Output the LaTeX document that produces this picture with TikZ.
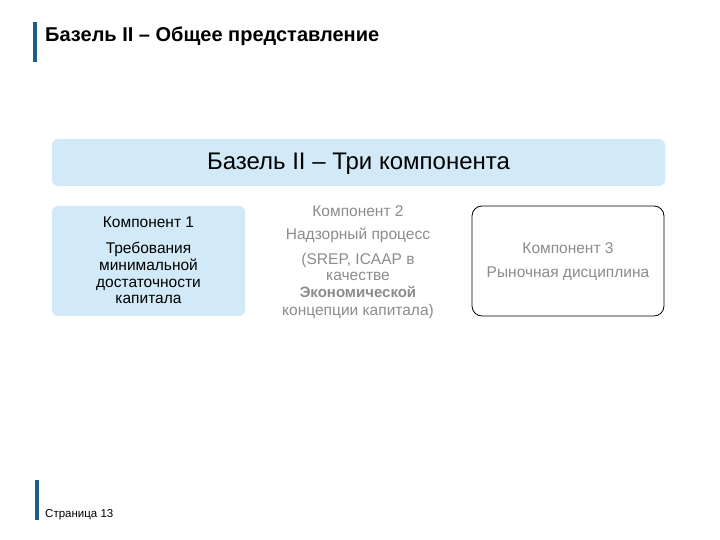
\documentclass[tikz,border=0pt]{standalone}
\usepackage{fontspec}
\setmainfont{Liberation Sans}
\definecolor{barblue}{HTML}{1B5E8C}
\definecolor{lightblue}{HTML}{D2EAF8}
\definecolor{greytext}{HTML}{8C8C8C}
\tikzset{
  bar/.style={fill=barblue, draw=none},
  panel/.style={fill=lightblue, draw=none, rounded corners=6pt},
  outlinebox/.style={draw=black, line width=0.8pt, fill=white, rounded corners=10pt},
  ln/.style={anchor=base, inner sep=0pt, font=\fontsize{15.5}{17}\selectfont},
  gln/.style={ln, text=greytext},
}
\begin{document}
\begin{tikzpicture}[x=1pt,y=-1pt]
\useasboundingbox (0,0) rectangle (720,540);
\fill[white] (0,0) rectangle (720,540);
% title
\fill[bar] (33,22) rectangle (37,62);
\node[anchor=base west, inner sep=0pt, font=\bfseries\fontsize{20}{22}\selectfont] (title) at (45,42) {Базель II – Общее представление};
% banner
\node[panel, minimum width=613pt, minimum height=47pt, inner sep=0pt] (banner) at (358.5,162.5) {};
\node[anchor=base, inner sep=0pt, font=\fontsize{24}{26}\selectfont] (bannertext) at (358.5,170) {Базель II – Три компонента};
% component 1
\node[panel, minimum width=193pt, minimum height=110pt, inner sep=0pt] (c1) at (148.5,261) {};
\node[ln] (c1a) at (148.5,227) {Компонент 1};
\node[ln] (c1b) at (148.5,253) {Требования};
\node[ln] (c1c) at (148.5,270) {минимальной};
\node[ln] (c1d) at (148.5,287) {достаточности};
\node[ln] (c1e) at (148.5,303.5) {капитала};
% component 2
\node[gln] (c2a) at (358,216) {Компонент 2};
\node[gln] (c2b) at (358,240) {Надзорный процесс};
\node[gln] (c2c) at (358,264) {(SREP, ICAAP в};
\node[gln] (c2d) at (358,280.5) {качестве};
\node[gln, font=\bfseries\fontsize{15}{17}\selectfont] (c2e) at (358,297.5) {Экономической};
\node[gln] (c2f) at (358,315) {концепции капитала)};
% component 3
\node[outlinebox, minimum width=192pt, minimum height=110pt, inner sep=0pt] (c3) at (568,261) {};
\node[gln] (c3a) at (568,253.5) {Компонент 3};
\node[gln] (c3b) at (568,277.5) {Рыночная дисциплина};
% footer
\fill[bar] (35,480) rectangle (39,520);
\node[anchor=base west, inner sep=0pt, font=\fontsize{11.5}{13}\selectfont] (page) at (45,517) {Страница 13};
\end{tikzpicture}
\end{document}
